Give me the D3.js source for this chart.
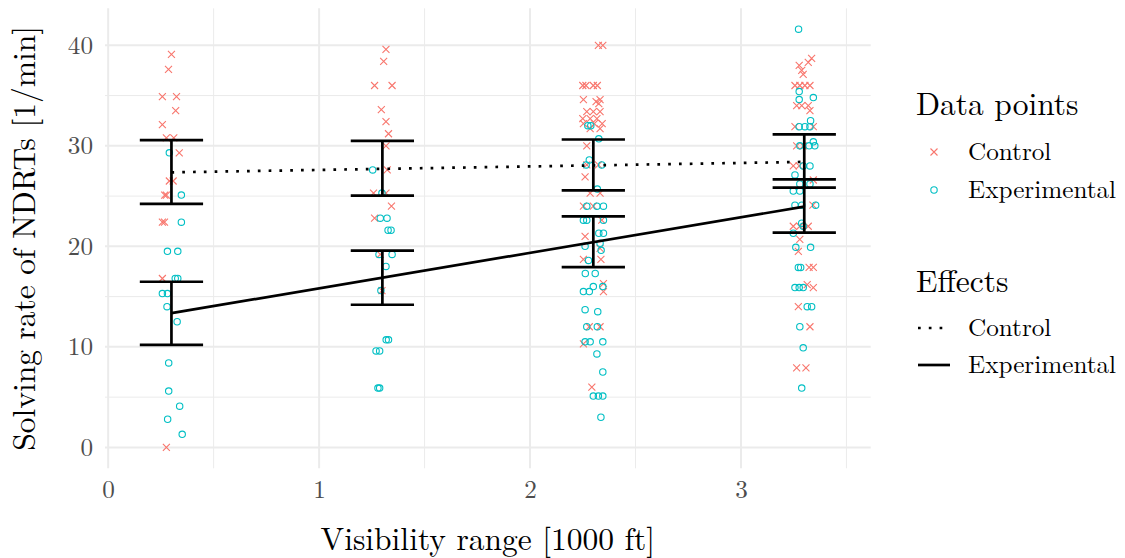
<!DOCTYPE html>
<html>
<head>
<meta charset="utf-8">
<script src="https://cdn.jsdelivr.net/npm/d3@7"></script>
<style>
  body { margin: 0; background: #fff; }
</style>
</head>
<body>
<div id="chart"></div>
<script>
// Axis ticks
var xTicks = [0, 1, 2, 3];
var xMinorTicks = [0.5, 1.5, 2.5, 3.5];
var yTicks = [0, 10, 20, 30, 40];
var yMinorTicks = [5, 15, 25, 35];

// Jittered data points [visibility, rate]
var controlPoints = [
    [0.300, 39.1], [0.286, 37.6], [0.257, 34.9], [0.324, 34.9], [0.320, 33.5], [0.257, 32.1], [0.276, 30.8], [0.311, 30.8],
    [0.337, 29.3], [0.290, 26.5], [0.308, 26.5], [0.268, 25.1], [0.276, 25.1], [0.257, 22.4], [0.267, 22.4], [0.257, 16.8], [0.276, 0.0],
    [1.317, 39.6], [1.306, 38.4], [1.263, 36.0], [1.346, 36.0], [1.295, 33.6], [1.317, 32.4], [1.329, 31.2], [1.317, 30.0],
    [1.323, 27.6], [1.258, 25.3], [1.317, 25.3], [1.343, 24.0], [1.263, 22.8], [1.290, 19.2], [1.298, 15.6],
    [2.324, 40.0], [2.345, 40.0], [2.250, 36.0], [2.265, 36.0], [2.300, 36.0], [2.319, 36.0], [2.253, 34.6], [2.313, 34.4],
    [2.332, 34.6], [2.326, 34.2], [2.269, 33.4], [2.300, 33.4], [2.332, 33.4], [2.250, 32.7], [2.285, 32.7], [2.317, 32.7],
    [2.253, 32.2], [2.305, 32.2], [2.342, 32.2], [2.285, 31.7], [2.332, 31.7], [2.269, 30.0], [2.269, 28.1], [2.324, 28.1],
    [2.261, 26.9], [2.285, 25.3], [2.332, 25.3], [2.253, 24.0], [2.300, 24.0], [2.340, 22.6], [2.261, 21.0], [2.332, 19.8],
    [2.253, 18.7], [2.336, 18.7], [2.348, 16.3], [2.348, 15.5], [2.281, 12.0], [2.332, 12.0], [2.253, 10.3], [2.293, 6.0],
    [3.335, 38.7], [3.319, 38.3], [3.276, 38.0], [3.288, 37.5], [3.295, 37.1], [3.256, 36.0], [3.279, 36.0], [3.303, 36.0],
    [3.327, 36.0], [3.264, 34.0], [3.288, 34.0], [3.319, 34.0], [3.327, 33.5], [3.256, 31.9], [3.343, 31.9], [3.264, 30.0],
    [3.295, 30.0], [3.248, 28.0], [3.276, 28.0], [3.343, 26.6], [3.341, 24.1], [3.248, 22.0], [3.279, 22.0], [3.319, 22.0],
    [3.279, 20.7], [3.272, 19.5], [3.323, 17.9], [3.343, 17.9], [3.314, 16.2], [3.343, 15.9], [3.272, 14.0], [3.327, 12.0],
    [3.264, 7.9], [3.308, 7.9]
];

var experimentalPoints = [
    [0.290, 29.3], [0.347, 25.1], [0.347, 22.4], [0.281, 19.5], [0.330, 19.5], [0.318, 16.8], [0.330, 16.8], [0.257, 15.3],
    [0.281, 15.3], [0.279, 14.0], [0.327, 12.5], [0.287, 8.4], [0.287, 5.6], [0.339, 4.1], [0.282, 2.8], [0.351, 1.3],
    [1.254, 27.6], [1.298, 25.3], [1.290, 22.8], [1.322, 22.8], [1.327, 21.6], [1.341, 21.6], [1.284, 19.2], [1.346, 19.2],
    [1.317, 18.0], [1.293, 15.6], [1.318, 10.7], [1.329, 10.7], [1.270, 9.6], [1.287, 9.6], [1.279, 5.9], [1.287, 5.9],
    [2.274, 32.0], [2.288, 32.0], [2.326, 30.7], [2.281, 28.6], [2.266, 28.1], [2.340, 28.1], [2.319, 25.7], [2.269, 24.0],
    [2.317, 24.0], [2.348, 24.0], [2.253, 22.6], [2.269, 22.6], [2.348, 22.6], [2.261, 20.0], [2.326, 21.3], [2.348, 21.3],
    [2.332, 20.3], [2.337, 19.6], [2.277, 18.6], [2.262, 17.3], [2.309, 17.3], [2.253, 15.5], [2.281, 15.5], [2.300, 16.0],
    [2.345, 16.0], [2.261, 13.7], [2.321, 13.5], [2.269, 12.0], [2.319, 12.0], [2.261, 10.5], [2.285, 10.5], [2.345, 10.5],
    [2.317, 9.3], [2.345, 7.5], [2.300, 5.1], [2.324, 5.1], [2.345, 5.1], [2.336, 3.0],
    [3.273, 41.6], [3.276, 35.4], [3.276, 34.6], [3.343, 34.8], [3.330, 32.5], [3.276, 31.9], [3.303, 31.9], [3.327, 31.9],
    [3.343, 30.4], [3.279, 30.0], [3.323, 30.0], [3.350, 30.0], [3.295, 28.0], [3.327, 28.0], [3.256, 27.1], [3.279, 26.2],
    [3.327, 26.2], [3.248, 25.5], [3.279, 25.5], [3.256, 24.1], [3.288, 24.1], [3.354, 24.1], [3.288, 22.3], [3.295, 22.0],
    [3.248, 21.3], [3.260, 19.9], [3.330, 19.9], [3.272, 17.9], [3.283, 17.9], [3.256, 15.9], [3.276, 15.9], [3.295, 15.9],
    [3.314, 14.0], [3.335, 14.0], [3.279, 12.0], [3.295, 9.9], [3.288, 5.9]
];

// Fitted effects: group positions and error bars
var groups = [0.3, 1.3, 2.3, 3.3];
var controlLine = [[0.3, 27.36], [3.3, 28.4]];
var experimentalLine = [[0.3, 13.35], [3.3, 23.95]];
var controlLower = [24.22, 25.04, 25.57, 25.84];
var controlUpper = [30.57, 30.50, 30.63, 31.13];
var experimentalLower = [10.19, 14.19, 17.93, 21.37];
var experimentalUpper = [16.48, 19.58, 22.99, 26.66];
var barHalfWidth = 0.15;

var colors = { control: "#F8766D", experimental: "#00BFC4" };
var fontFamily = "'Latin Modern Roman', 'Liberation Serif', serif";

// Panel
var svgWidth = 1125, svgHeight = 558;
var panel = { left: 105, right: 870.7, top: 8.3, bottom: 468.3 };

var svg = d3.select("#chart").append("svg")
    .attr("width", svgWidth)
    .attr("height", svgHeight)
    .style("background", "#fff");

var x = d3.scaleLinear().domain([-0.015, 3.615]).range([panel.left, panel.right]);
var y = d3.scaleLinear().domain([-2.08, 43.68]).range([panel.bottom, panel.top]);

// Grid lines
var grid = svg.append("g");
function gridLines(vals, vertical, width) {
    grid.selectAll(null).data(vals).enter().append("line")
        .attr("x1", d => vertical ? x(d) : panel.left)
        .attr("x2", d => vertical ? x(d) : panel.right)
        .attr("y1", d => vertical ? panel.top : y(d))
        .attr("y2", d => vertical ? panel.bottom : y(d))
        .attr("stroke", "#EBEBEB")
        .attr("stroke-width", width);
}
gridLines(yMinorTicks, false, 1);
gridLines(xMinorTicks, true, 1);
gridLines(yTicks, false, 2);
gridLines(xTicks, true, 2);

// Axis tick labels
var xAxis = svg.append("g")
    .attr("transform", `translate(0, ${panel.bottom})`)
    .call(d3.axisBottom(x).tickValues(xTicks).tickSize(0).tickPadding(12).tickFormat(d3.format("d")));
var yAxis = svg.append("g")
    .attr("transform", `translate(${panel.left}, 0)`)
    .call(d3.axisLeft(y).tickValues(yTicks).tickSize(0).tickPadding(12).tickFormat(d3.format("d")));
[xAxis, yAxis].forEach(function (ax) {
    ax.select(".domain").remove();
    ax.attr("font-family", null).attr("font-size", null);
    ax.selectAll("text")
        .attr("fill", "#4D4D4D")
        .style("font-family", fontFamily)
        .style("font-size", "25.2px");
});

// Data points
var crossSize = 3.5;
svg.append("g").selectAll("path").data(controlPoints).enter().append("path")
    .attr("d", d => {
        var cx = x(d[0]), cy = y(d[1]);
        return `M${cx - crossSize},${cy - crossSize}L${cx + crossSize},${cy + crossSize}M${cx - crossSize},${cy + crossSize}L${cx + crossSize},${cy - crossSize}`;
    })
    .attr("stroke", colors.control)
    .attr("stroke-width", 1.1)
    .attr("fill", "none");

svg.append("g").selectAll("circle").data(experimentalPoints).enter().append("circle")
    .attr("cx", d => x(d[0]))
    .attr("cy", d => y(d[1]))
    .attr("r", 3.2)
    .attr("stroke", colors.experimental)
    .attr("stroke-width", 1.1)
    .attr("fill", "none");

// Effect lines
var line = d3.line().x(d => x(d[0])).y(d => y(d[1]));
svg.append("path").datum(controlLine)
    .attr("d", line)
    .attr("stroke", "#000")
    .attr("stroke-width", 2.7)
    .attr("stroke-dasharray", "2.7 8.1")
    .attr("fill", "none");
svg.append("path").datum(experimentalLine)
    .attr("d", line)
    .attr("stroke", "#000")
    .attr("stroke-width", 2.7)
    .attr("fill", "none");

// Error bars
function errorBars(lower, upper) {
    var g = svg.append("g")
        .attr("stroke", "#000")
        .attr("stroke-width", 2.7)
        .attr("fill", "none");
    groups.forEach(function (gx, i) {
        g.append("path")
            .attr("d", `M${x(gx - barHalfWidth)},${y(upper[i])}H${x(gx + barHalfWidth)}` +
                `M${x(gx)},${y(upper[i])}V${y(lower[i])}` +
                `M${x(gx - barHalfWidth)},${y(lower[i])}H${x(gx + barHalfWidth)}`);
    });
}
errorBars(controlLower, controlUpper);
errorBars(experimentalLower, experimentalUpper);

// Text helper
function addText(parent, tx, ty, size, label) {
    return parent.append("text")
        .attr("x", tx)
        .attr("y", ty)
        .attr("fill", "#000")
        .style("font-family", fontFamily)
        .style("font-size", size + "px")
        .text(label);
}

// Axis titles
addText(svg, (panel.left + panel.right) / 2, 550, 31.5, "Visibility range [1000 ft]")
    .attr("text-anchor", "middle");

addText(svg, 0, 0, 31.5, "Solving rate of NDRTs [1/min]")
    .attr("transform", `translate(35, ${(panel.top + panel.bottom) / 2}) rotate(-90)`)
    .attr("text-anchor", "middle");

// Legends
var legend = svg.append("g");
addText(legend, 916, 115, 31.5, "Data points");
legend.append("path")
    .attr("d", `M${934 - crossSize},${152 - crossSize}L${934 + crossSize},${152 + crossSize}M${934 - crossSize},${152 + crossSize}L${934 + crossSize},${152 - crossSize}`)
    .attr("stroke", colors.control).attr("stroke-width", 1.1);
addText(legend, 968, 160, 25.2, "Control");
legend.append("circle").attr("cx", 934).attr("cy", 190).attr("r", 3.2)
    .attr("stroke", colors.experimental).attr("stroke-width", 1.1).attr("fill", "none");
addText(legend, 968, 198, 25.2, "Experimental");

addText(legend, 916, 292, 31.5, "Effects");
legend.append("line").attr("x1", 918).attr("x2", 950).attr("y1", 328).attr("y2", 328)
    .attr("stroke", "#000").attr("stroke-width", 2.7).attr("stroke-dasharray", "2.7 8.1");
addText(legend, 968, 336, 25.2, "Control");
legend.append("line").attr("x1", 918).attr("x2", 950).attr("y1", 365).attr("y2", 365)
    .attr("stroke", "#000").attr("stroke-width", 2.7);
addText(legend, 968, 373, 25.2, "Experimental");
</script>
</body>
</html>
